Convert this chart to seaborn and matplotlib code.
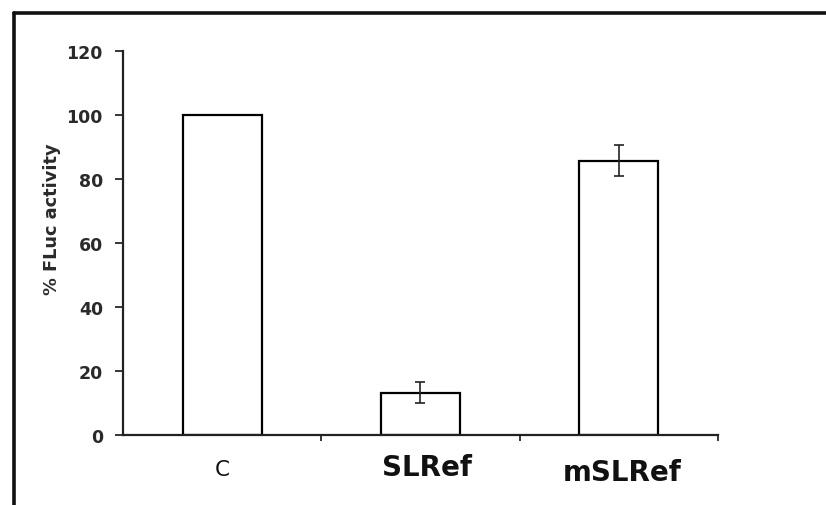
import matplotlib
matplotlib.use('Agg')
import matplotlib.pyplot as plt
import seaborn as sns
import pandas as pd
from matplotlib.lines import Line2D
from matplotlib.ticker import FixedLocator
from matplotlib.transforms import ScaledTranslation

# Data
groups = ['C', 'SLRef', 'mSLRef']
activity = [100, 13.2, 85.8]
activity_err = [0, 3.3, 4.8]

df = pd.DataFrame({'group': groups, 'activity': activity, 'err': activity_err})

sns.set_style('white')
plt.rcParams['font.family'] = ['DejaVu Sans']

fig = plt.figure(figsize=(8.26, 5.06), dpi=100, facecolor='white')
ax = fig.add_axes([0.149, 0.138, 0.72, 0.759])

sns.barplot(data=df, x='group', y='activity', color='white', edgecolor='black',
            linewidth=1.6, width=0.4, errorbar=None, ax=ax)

# error bars only where there is a spread
has_err = df[df.err > 0]
ax.errorbar(x=has_err.index, y=has_err.activity, yerr=has_err.err, fmt='none',
            ecolor='#222222', elinewidth=1.2, capsize=3.8, capthick=1.2)

ax.set_xlim(-0.5, 2.5)
ax.set_ylim(0, 120)
ax.set_yticks(range(0, 121, 20))
ax.tick_params(axis='y', direction='out', length=6, width=1.3, left=True,
               labelsize=12.5, pad=8.5)
for t in ax.get_yticklabels():
    t.set_fontweight('bold')
    t.set_color('#2a2a2a')

ax.xaxis.set_minor_locator(FixedLocator([0.5, 1.5, 2.5]))
ax.tick_params(axis='x', which='major', length=0, pad=13)
ax.tick_params(axis='x', which='minor', direction='out', length=4, width=1.3, bottom=True)
ax.set_xticklabels(groups)
xl = ax.get_xticklabels()
xl[0].set_fontsize(15.5)
xl[0].set_fontweight('normal')
for t in xl[1:]:
    t.set_fontsize(20)
    t.set_fontweight('bold')
# small nudges so the labels sit where they do in the original
nudges = [(0, -6), (7, 0), (4, -5)]
for t, (dx, dy) in zip(xl, nudges):
    t.set_color('#111111')
    t.set_transform(t.get_transform() + ScaledTranslation(dx / 100, dy / 100, fig.dpi_scale_trans))

ax.set_xlabel('')
ax.set_ylabel('% FLuc activity', fontsize=12.8, fontweight='bold', color='#2a2a2a')
ax.yaxis.set_label_coords(-0.105, 0.565)

sns.despine(ax=ax)
for s in ['left', 'bottom']:
    ax.spines[s].set_linewidth(1.6)
    ax.spines[s].set_color('#222222')

# outer frame of the original figure (top and left edges visible)
fig.add_artist(Line2D([14 / 826, 1], [1 - 14 / 506, 1 - 14 / 506], color='#111111', lw=2.6,
                      transform=fig.transFigure))
fig.add_artist(Line2D([14 / 826, 14 / 826], [0, 1 - 14 / 506], color='#111111', lw=2.6,
                      transform=fig.transFigure))

fig.savefig('out.png', dpi=100, facecolor='white')
